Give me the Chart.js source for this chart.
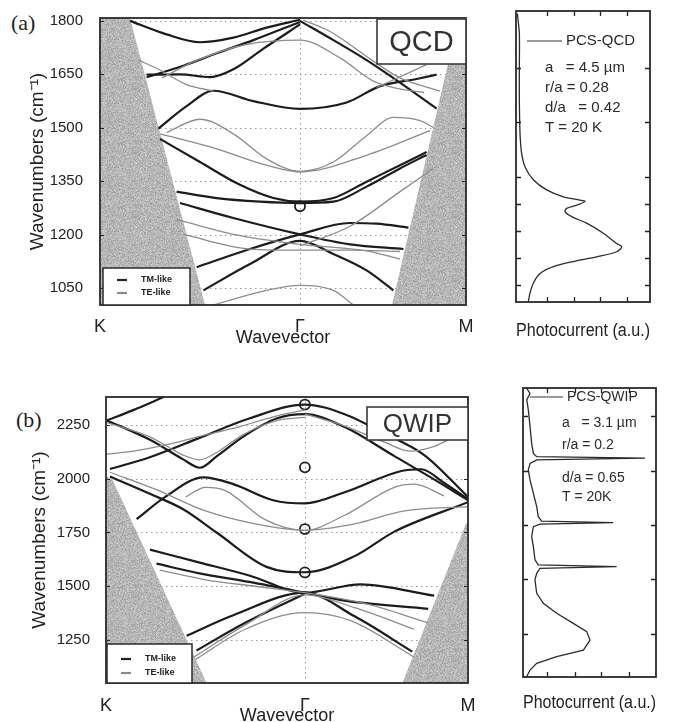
<!DOCTYPE html>
<html><head><meta charset="utf-8">
<script src="https://cdn.jsdelivr.net/npm/chart.js@4.4.1/dist/chart.umd.min.js"></script>
<style>
html,body{margin:0;padding:0;background:#fff;width:681px;height:722px;overflow:hidden;position:relative;}
.c{position:absolute;}
.lab{position:absolute;font-family:"Liberation Serif","DejaVu Serif",serif;font-size:22px;color:#222;line-height:1;}
</style></head><body>
<div class="lab" style="left:11px;top:12px">(a)</div>
<div class="lab" style="left:16px;top:409px">(b)</div>
<canvas id="bandA" class="c" style="left:0;top:0" width="480" height="350"></canvas>
<canvas id="photoA" class="c" style="left:490px;top:0" width="190" height="350"></canvas>
<canvas id="bandB" class="c" style="left:0;top:380px" width="480" height="360"></canvas>
<canvas id="photoB" class="c" style="left:490px;top:380px" width="190" height="342"></canvas>
<script>
// ---------- data ----------
const kLabels = ['K', 'Γ', 'M'];
const kPosA = [0, 1, 1.83];
const kPosB = [0, 1, 1.82];
const yTicksA = [1050, 1200, 1350, 1500, 1650, 1800];
const yTicksB = [1250, 1500, 1750, 2000, 2250];
const legendLabels = ['TM-like', 'TE-like'];

// panel (a) QCD : TM-like (black) bands, [wavevector, wavenumber]
const tmBandsA = [
  [[0.15,1800],[0.333,1762],[0.5,1740],[0.667,1753],[0.833,1781],[1.0,1803]],
  [[1.0,1800],[1.167,1746],[1.333,1690],[1.5,1627],[1.683,1554]],
  [[0.233,1642],[0.417,1674],[0.583,1709],[0.767,1746],[1.0,1797]],
  [[0.233,1649],[0.4,1650],[0.55,1642],[0.667,1664],[0.817,1722],[1.0,1790]],
  [[0.292,1498],[0.433,1561],[0.567,1604],[0.767,1575],[1.0,1553],[1.233,1571],[1.4,1617],[1.583,1637],[1.683,1649]],
  [[0.3,1469],[0.5,1404],[0.7,1340],[0.867,1303],[1.0,1293],[1.167,1303],[1.333,1349],[1.5,1395],[1.633,1432]],
  [[0.383,1321],[0.583,1303],[0.8,1293],[1.0,1289],[1.167,1293],[1.333,1335],[1.5,1386],[1.633,1424]],
  [[0.4,1289],[0.667,1247],[1.0,1201],[1.25,1173],[1.517,1160]],
  [[0.483,1109],[0.75,1160],[1.0,1201],[1.25,1233],[1.383,1231],[1.542,1220]],
  [[0.517,1044],[0.75,1118],[1.0,1183],[1.167,1146],[1.333,1100],[1.467,1044]]
];
// panel (a) QCD : TE-like (grey) bands
const teBandsA = [
  [[0.192,1690],[0.283,1667],[0.433,1621],[0.567,1603]],
  [[0.31,1640],[0.475,1687],[0.725,1733],[1.0,1746],[1.2,1696],[1.367,1631],[1.467,1613],[1.62,1599]],
  [[1.017,1802],[1.15,1770],[1.367,1687],[1.5,1640],[1.7,1603]],
  [[0.333,1487],[0.5,1524],[0.667,1483],[0.833,1413],[1.0,1378],[1.167,1404],[1.333,1478],[1.467,1529],[1.6,1520],[1.667,1501]],
  [[0.3,1483],[0.583,1441],[0.833,1395],[1.0,1376],[1.333,1423],[1.65,1492]],
  [[0.383,1243],[0.667,1201],[1.0,1173],[1.333,1155],[1.5,1132]],
  [[0.417,1201],[0.75,1160],[1.0,1157],[1.25,1157],[1.5,1153]],
  [[1.0,1169],[1.25,1224],[1.5,1321],[1.667,1386]],
  [[0.567,1003],[0.833,1044],[1.0,1058],[1.167,1044],[1.267,1003]],
  [[1.383,1613],[1.633,1677]]
];
const modesA = [[1.0,1280]];
const lightConeA = [
  [[0,1808],[0.15,1808],[0.525,1003],[0,1003]],
  [[1.83,1003],[1.46,1003],[1.74,1680],[1.83,1690]]
];

// panel (b) QWIP
const tmBandsB = [
  [[0,2270],[0.137,2319],[0.29,2380]],
  [[0,2273],[0.221,2181],[0.388,2090],[0.472,2051],[0.556,2104],[0.69,2196],[0.857,2280],[1.0,2300],[1.2,2240],[1.45,2105],[1.62,2013],[1.82,1900]],
  [[0.02,2045],[0.22,2100],[0.47,2190],[0.72,2280],[1.0,2345],[1.2,2300],[1.4,2210],[1.6,2110],[1.82,1915]],
  [[0.02,2010],[0.22,1930],[0.39,1857],[0.556,1750],[0.807,1590],[1.0,1565],[1.25,1640],[1.45,1754],[1.82,1891]],
  [[0.154,1812],[0.305,1920],[0.489,2006],[0.64,1975],[0.84,1900],[1.0,1885],[1.2,1937],[1.485,2036],[1.585,2044],[1.7,1980],[1.82,1905]],
  [[0.221,1670],[0.472,1610],[0.72,1550],[1.0,1470],[1.28,1509],[1.65,1456]],
  [[0.254,1605],[0.47,1560],[0.72,1520],[1.0,1470],[1.2,1433],[1.62,1395]],
  [[0.405,1270],[0.64,1365],[1.0,1470],[1.25,1360],[1.54,1196]],
  [[0.455,1201],[0.7,1330],[1.0,1465]]
];
const teBandsB = [
  [[0,2113],[0.137,2128],[0.305,2158],[0.472,2197],[0.673,2242],[0.84,2288],[1.0,2320]],
  [[0,2262],[0.221,2195],[0.388,2110],[0.47,2088],[0.556,2122],[0.69,2205],[0.857,2270],[1.0,2285]],
  [[1.0,2300],[1.2,2245],[1.4,2170],[1.53,2128],[1.65,2150],[1.72,2181]],
  [[0.02,2030],[0.25,1950],[0.5,1850],[0.75,1790],[1.0,1760],[1.25,1790],[1.5,1850],[1.82,1870]],
  [[0.4,1915],[0.5,1960],[0.6,1945],[0.8,1810],[1.0,1760],[1.2,1830],[1.45,1960],[1.55,1975],[1.7,1920]],
  [[0.27,1575],[0.5,1530],[0.75,1500],[1.0,1470],[1.3,1420],[1.62,1330]],
  [[0.44,1170],[0.7,1320],[1.0,1460],[1.25,1400],[1.55,1300]],
  [[0.45,1160],[0.7,1300],[1.0,1377],[1.23,1340],[1.55,1170]]
];
const modesB = [[1.0,2345],[1.0,2053],[1.0,1766],[1.0,1564]];
const lightConeB = [
  [[0,2012],[0.03,2000],[0.506,1050],[0,1050]],
  [[1.82,1050],[1.49,1050],[1.81,1790],[1.82,1795]]
];

// photocurrent spectra
const pcsQcdWavenumber = [1801,1746,1654,1562,1470,1414,1377,1341,1313,1294,1285,1281,1271,1262,1253,1239,1221,1193,1165,1156,1142,1128,1115,1101,1082,1055,1027,1004];
const pcsQcdSignal     = [0.01,0.025,0.025,0.025,0.03,0.042,0.067,0.129,0.229,0.353,0.478,0.515,0.453,0.378,0.366,0.416,0.527,0.652,0.751,0.789,0.751,0.602,0.428,0.279,0.179,0.129,0.104,0.092];
const pcsQwipWavenumber = [2378,2355,2325,2279,2202,2125,2079,2064,2057,2049,2033,2003,1957,1895,1834,1788,1767,1760,1754,1742,1696,1650,1589,1566,1558,1550,1527,1497,1435,1389,1343,1297,1259,1220,1174,1144,1113,1082,1052];
const pcsQwipSignal     = [0.028,0.053,0.028,0.04,0.053,0.065,0.078,0.103,0.917,0.103,0.053,0.04,0.053,0.078,0.103,0.115,0.14,0.679,0.128,0.078,0.065,0.078,0.09,0.115,0.704,0.128,0.103,0.09,0.103,0.153,0.253,0.378,0.479,0.504,0.454,0.253,0.103,0.053,0.028];
const photoYTicksA = [1050,1125,1200,1275,1350,1500,1650];
const photoXTicksA = [0.23,0.43,0.63,0.83];
const photoYTicksB = [1250,1500,1750,2000,2250];
const photoXTicksB = [0.18,0.39,0.59,0.8];
const qcdParams = ['a   = 4.5 µm','r/a = 0.28','d/a   = 0.42','T = 20 K'];
const qwipParams = ['a   = 3.1 µm','r/a = 0.2','d/a = 0.65','T = 20K'];

// ---------- drawing ----------
const FONT = '"Liberation Sans", Arial, sans-serif';
const INK = '#222';
function makeSpeckle(){
  const c=document.createElement('canvas'); c.width=c.height=64;
  const g=c.getContext('2d'); const im=g.createImageData(64,64);
  for(let j=0;j<64;j++)for(let i=0;i<64;i++){
    let h=Math.sin(i*12.9898+j*78.233)*43758.5453; h=h-Math.floor(h);
    const v=Math.round(160+h*44); const k=(j*64+i)*4;
    im.data[k]=im.data[k+1]=im.data[k+2]=v; im.data[k+3]=255;
  }
  g.putImageData(im,0,0); return c;
}
const speckle = makeSpeckle();
const pts = arr => arr.map(p=>({x:p[0],y:p[1]}));

function bandDecor(o){
  return {
    id:'bandDecor',
    beforeDatasetsDraw(chart){
      const {ctx, chartArea:a, scales:{x,y}} = chart;
      ctx.save();
      ctx.beginPath(); ctx.rect(a.left,a.top,a.right-a.left,a.bottom-a.top); ctx.clip();
      ctx.strokeStyle='#9a9a9a'; ctx.lineWidth=1; ctx.setLineDash([1.5,3.5]);
      o.yticks.forEach(v=>{const py=Math.round(y.getPixelForValue(v))+0.5; ctx.beginPath(); ctx.moveTo(a.left,py); ctx.lineTo(a.right,py); ctx.stroke();});
      const gx=Math.round(x.getPixelForValue(o.xticks[1]))+0.5;
      ctx.beginPath(); ctx.moveTo(gx,a.top); ctx.lineTo(gx,a.bottom); ctx.stroke();
      ctx.setLineDash([]);
      ctx.fillStyle=ctx.createPattern(speckle,'repeat');
      o.cones.forEach(poly=>{ctx.beginPath(); poly.forEach((p,i)=>{const px=x.getPixelForValue(p[0]),py=y.getPixelForValue(p[1]); i?ctx.lineTo(px,py):ctx.moveTo(px,py);}); ctx.closePath(); ctx.fill();});
      ctx.restore();
    },
    afterDraw(chart){
      const {ctx, chartArea:a, scales:{y}} = chart;
      ctx.save();
      ctx.strokeStyle=INK; ctx.lineWidth=1;
      o.yticks.forEach(v=>{const py=Math.round(y.getPixelForValue(v))+0.5; ctx.beginPath(); ctx.moveTo(a.left,py); ctx.lineTo(a.left+4,py); ctx.moveTo(a.right,py); ctx.lineTo(a.right-4,py); ctx.stroke();});
      ctx.strokeStyle='#2a2a2a'; ctx.lineWidth=1.8;
      ctx.strokeRect(a.left,a.top,a.right-a.left,a.bottom-a.top);
      const b=o.box;
      ctx.fillStyle='#fff'; ctx.fillRect(a.right-b.w,a.top+b.dy,b.w,b.h);
      ctx.strokeStyle='#3a3a3a'; ctx.lineWidth=1.6; ctx.strokeRect(a.right-b.w,a.top+b.dy,b.w,b.h);
      ctx.fillStyle='#333'; ctx.font=b.size+'px '+FONT; ctx.textAlign='center'; ctx.textBaseline='middle';
      ctx.fillText(b.text,a.right-b.w/2,a.top+b.dy+b.h/2+1);
      const L=o.leg; const lx=a.left+L.dx, ly=a.bottom-L.h;
      ctx.fillStyle='#fff'; ctx.fillRect(lx,ly,L.w,L.h);
      ctx.strokeStyle='#2a2a2a'; ctx.lineWidth=1.5; ctx.strokeRect(lx,ly,L.w,L.h);
      ctx.font='bold 9px '+FONT; ctx.textAlign='left'; ctx.textBaseline='middle';
      [[INK,2.2,L.r1],['#8a8a8a',2.2,L.r2]].forEach((r,i)=>{
        ctx.strokeStyle=r[0]; ctx.lineWidth=r[1];
        ctx.beginPath(); ctx.moveTo(lx+14,ly+r[2]); ctx.lineTo(lx+24,ly+r[2]); ctx.stroke();
        ctx.fillStyle=INK; ctx.fillText(legendLabels[i],lx+38,ly+r[2]);
      });
      ctx.restore();
    }
  };
}

function bandChart(id,o){
  const datasets=[];
  o.te.forEach(b=>datasets.push({data:pts(b),showLine:true,borderColor:'#8c8c8c',borderWidth:1.3,pointRadius:0,cubicInterpolationMode:'monotone',fill:false}));
  o.tm.forEach(b=>datasets.push({data:pts(b),showLine:true,borderColor:'#1c1c1c',borderWidth:2.2,pointRadius:0,cubicInterpolationMode:'monotone',fill:false}));
  datasets.push({data:pts(o.modes),showLine:false,pointRadius:5,pointStyle:'circle',pointBackgroundColor:'rgba(255,255,255,0)',pointBorderColor:'#222',pointBorderWidth:1.8});
  new Chart(document.getElementById(id),{
    type:'scatter',
    data:{datasets},
    options:{
      responsive:false,animation:false,events:[],
      layout:{padding:o.pad},
      plugins:{legend:{display:false},tooltip:{enabled:false}},
      scales:{
        x:{type:'linear',min:0,max:o.xticks[2],
           afterBuildTicks:s=>{s.ticks=o.xticks.map(v=>({value:v}));},
           afterFit:s=>{s.height=o.xh;},
           grid:{display:false},border:{display:false},
           ticks:{callback:(v,i)=>kLabels[i],font:{family:FONT,size:18},color:INK,padding:o.xtpad,maxRotation:0,autoSkip:false},
           title:{display:true,text:'Wavevector',font:{family:FONT,size:18},color:INK,padding:{top:0,bottom:o.xtitlePad}}},
        y:{type:'linear',min:o.ymin,max:o.ymax,
           afterBuildTicks:s=>{s.ticks=o.yticks.map(v=>({value:v}));},
           afterFit:s=>{s.width=o.yw;},
           grid:{display:false},border:{display:false},
           ticks:{callback:v=>String(v),font:{family:FONT,size:15},color:INK,padding:o.ytpad,autoSkip:false},
           title:{display:true,text:'Wavenumbers (cm⁻¹)',font:{family:FONT,size:19},color:INK,padding:{top:o.ytitlePad,bottom:0}}}
      }
    },
    plugins:[bandDecor(o)]
  });
}

function photoDecor(o){
  return {
    id:'photoDecor',
    afterDraw(chart){
      const {ctx, chartArea:a, scales:{x,y}} = chart;
      ctx.save();
      ctx.strokeStyle=INK; ctx.lineWidth=1.3;
      o.yt.forEach(v=>{const py=Math.round(y.getPixelForValue(v))+0.5; ctx.beginPath(); ctx.moveTo(a.left,py); ctx.lineTo(a.left+5,py); ctx.moveTo(a.right,py); ctx.lineTo(a.right-5,py); ctx.stroke();});
      o.xt.forEach(v=>{const px=Math.round(x.getPixelForValue(v))+0.5; ctx.beginPath(); ctx.moveTo(px,a.top); ctx.lineTo(px,a.top+5); ctx.moveTo(px,a.bottom); ctx.lineTo(px,a.bottom-5); ctx.stroke();});
      ctx.strokeStyle='#2a2a2a'; ctx.lineWidth=1.8;
      ctx.strokeRect(a.left,a.top,a.right-a.left,a.bottom-a.top);
      const g=o.leg;
      ctx.strokeStyle='#9a9a9a'; ctx.lineWidth=2;
      ctx.beginPath(); ctx.moveTo(a.left+g.l0,a.top+g.ly); ctx.lineTo(a.left+g.l1,a.top+g.ly); ctx.stroke();
      ctx.fillStyle='#2a2a2a'; ctx.font=g.size+'px '+FONT; ctx.textAlign='left'; ctx.textBaseline='middle';
      ctx.fillText(o.name,a.left+g.l1+4,a.top+g.ly);
      o.params.forEach((t,i)=>ctx.fillText(t,a.left+g.px,a.top+g.py[i]));
      ctx.restore();
    }
  };
}

function photoChart(id,o){
  new Chart(document.getElementById(id),{
    type:'scatter',
    data:{datasets:[{data:o.sig.map((s,i)=>({x:s,y:o.wn[i]})),showLine:true,borderColor:'#2b2b2b',borderWidth:1.3,pointRadius:0,tension:o.tension,fill:false}]},
    options:{
      responsive:false,animation:false,events:[],
      layout:{padding:o.pad},
      plugins:{legend:{display:false},tooltip:{enabled:false}},
      scales:{
        x:{type:'linear',min:0,max:1,ticks:{display:false},grid:{display:false},border:{display:false},
           afterFit:s=>{s.height=o.xh;},
           title:{display:true,text:'Photocurrent (a.u.)',font:{family:FONT,size:18},color:INK,padding:{top:0,bottom:o.titlePad}}},
        y:{type:'linear',min:o.ymin,max:o.ymax,display:false}
      }
    },
    plugins:[photoDecor(o)]
  });
}

bandChart('bandA',{tm:tmBandsA,te:teBandsA,modes:modesA,cones:lightConeA,xticks:kPosA,yticks:yTicksA,
  ymin:1003,ymax:1808,pad:{left:0,top:14,right:14,bottom:0},yw:100,xh:45,xtpad:3,xtitlePad:1,ytpad:9,ytitlePad:26,
  box:{text:'QCD',w:89,h:45,dy:1,size:29},leg:{dx:3,w:87,h:37,r1:12,r2:25}});
bandChart('bandB',{tm:tmBandsB,te:teBandsB,modes:modesB,cones:lightConeB,xticks:kPosB,yticks:yTicksB,
  ymin:1050,ymax:2380,pad:{left:0,top:13,right:12,bottom:0},yw:106,xh:57,xtpad:4,xtitlePad:13,ytpad:8,ytitlePad:28,
  box:{text:'QWIP',w:101,h:33,dy:10,size:26},leg:{dx:1,w:85,h:39,r1:15,r2:29}});
photoChart('photoA',{wn:pcsQcdWavenumber,sig:pcsQcdSignal,ymin:1003,ymax:1808,tension:0.3,
  pad:{left:26,top:11,right:30,bottom:0},xh:48,titlePad:8,yt:photoYTicksA,xt:photoXTicksA,name:'PCS-QCD',params:qcdParams,
  leg:{l0:11,l1:46,ly:30,size:15,px:29,py:[57,77,97,117]}});
photoChart('photoB',{wn:pcsQwipWavenumber,sig:pcsQwipSignal,ymin:1050,ymax:2380,tension:0,
  pad:{left:33,top:8,right:24,bottom:0},xh:45,titlePad:8,yt:photoYTicksB,xt:photoXTicksB,name:'PCS-QWIP',params:qwipParams,
  leg:{l0:7,l1:40,ly:9,size:14,px:39,py:[35,57,90,109]}});
</script>
</body></html>
